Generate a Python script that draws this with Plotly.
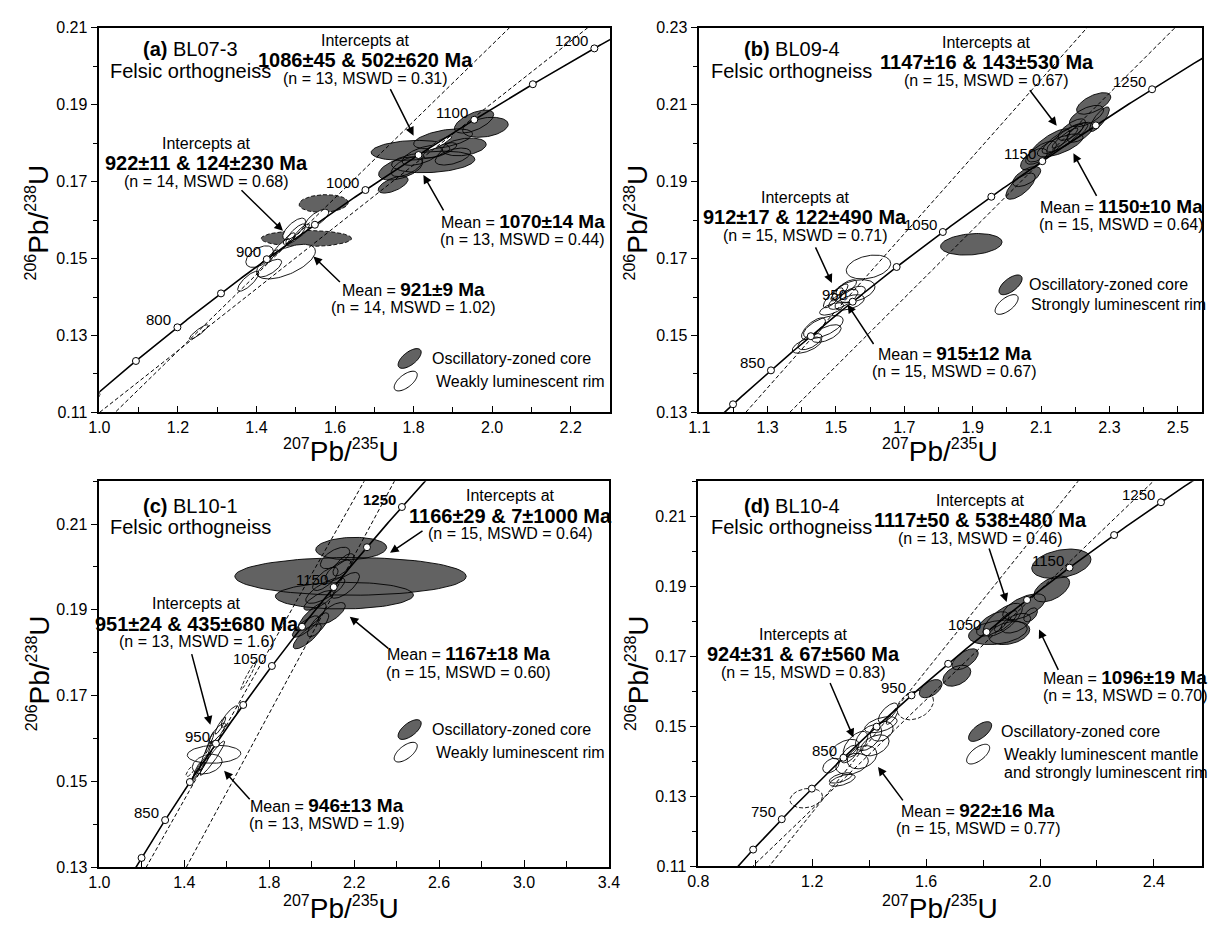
import numpy as np
import plotly.graph_objects as go

W, H = 1214, 931
FONT = "Liberation Sans, Arial, Helvetica, sans-serif"
CORE_FILL = "#626262"

# U decay constants (1/yr) for the Wetherill concordia
LAMBDA_238 = 1.55125e-10
LAMBDA_235 = 9.8485e-10

# ---------------------------------------------------------------------------
# Spot analyses: (207Pb/235U, +/-, 206Pb/238U, +/-, error correlation)
# ---------------------------------------------------------------------------
A_CORE = [
    (1.954, 0.050, 0.1856, 0.0030, 0.6),
    (1.983, 0.058, 0.1841, 0.0026, 0.3),
    (1.875, 0.075, 0.1811, 0.0026, 0.5),
    (1.792, 0.100, 0.1781, 0.0026, 0.2),
    (1.929, 0.056, 0.1790, 0.0023, 0.3),
    (1.850, 0.106, 0.1751, 0.0028, 0.25),
    (1.767, 0.056, 0.1734, 0.0030, 0.5),
    (1.748, 0.038, 0.1692, 0.0022, 0.6),
    (1.821, 0.050, 0.1768, 0.0026, 0.6),
    (1.867, 0.043, 0.1781, 0.0020, 0.7),
    (1.783, 0.040, 0.1739, 0.0026, 0.6),
    (1.900, 0.045, 0.1765, 0.0022, 0.5),
]
A_CORE_EXCLUDED = [
    (1.571, 0.0625, 0.1643, 0.0023, 0.1),
    (1.527, 0.115, 0.1552, 0.0021, 0.0),
]
A_RIM = [
    (1.554, 0.030, 0.1604, 0.0024, 0.7),
    (1.496, 0.029, 0.1577, 0.0028, 0.7),
    (1.500, 0.025, 0.1564, 0.0026, 0.8),
    (1.515, 0.020, 0.1570, 0.0020, 0.85),
    (1.483, 0.015, 0.1552, 0.0015, 0.8),
    (1.462, 0.022, 0.1530, 0.0022, 0.9),
    (1.440, 0.015, 0.1508, 0.0015, 0.9),
    (1.408, 0.035, 0.1505, 0.0028, 0.5),
    (1.475, 0.075, 0.1492, 0.0045, 0.6),
    (1.433, 0.031, 0.1475, 0.0023, 0.7),
    (1.379, 0.027, 0.1441, 0.0026, 0.8),
    (1.253, 0.024, 0.1309, 0.0019, 0.9),
    (1.867, 0.030, 0.1800, 0.0018, 0.9),
]

B_CORE = [
    (2.254, 0.050, 0.2103, 0.0028, 0.6),
    (2.233, 0.050, 0.2070, 0.0028, 0.6),
    (2.271, 0.029, 0.2062, 0.0032, 0.8),
    (2.170, 0.067, 0.2013, 0.0040, 0.85),
    (2.170, 0.053, 0.2013, 0.0036, 0.85),
    (2.170, 0.038, 0.2013, 0.0026, 0.9),
    (2.122, 0.062, 0.1994, 0.0043, 0.8),
    (2.156, 0.067, 0.1994, 0.0030, 0.7),
    (2.214, 0.038, 0.2028, 0.0026, 0.6),
    (2.190, 0.040, 0.2035, 0.0028, 0.7),
    (2.100, 0.045, 0.1975, 0.0030, 0.7),
    (2.079, 0.039, 0.1958, 0.0028, 0.6),
    (2.058, 0.041, 0.1913, 0.0026, 0.6),
    (2.040, 0.043, 0.1888, 0.0034, 0.7),
    (1.896, 0.090, 0.1737, 0.0028, 0.2),
]
B_RIM = [
    (1.595, 0.065, 0.1678, 0.0031, 0.3),
    (1.552, 0.062, 0.1615, 0.0030, 0.4),
    (1.549, 0.037, 0.1607, 0.0021, 0.6),
    (1.530, 0.030, 0.1625, 0.0020, 0.7),
    (1.510, 0.025, 0.1612, 0.0022, 0.8),
    (1.521, 0.043, 0.1594, 0.0026, 0.7),
    (1.492, 0.029, 0.1598, 0.0026, 0.8),
    (1.540, 0.043, 0.1586, 0.0020, 0.5),
    (1.487, 0.035, 0.1569, 0.0016, 0.6),
    (1.463, 0.058, 0.1522, 0.0030, 0.6),
    (1.434, 0.035, 0.1518, 0.0028, 0.7),
    (1.472, 0.043, 0.1505, 0.0023, 0.6),
    (1.415, 0.043, 0.1475, 0.0021, 0.6),
    (1.424, 0.035, 0.1484, 0.0021, 0.6),
]

C_CORE = [
    (2.186, 0.167, 0.2043, 0.0026, 0.1),
    (2.183, 0.545, 0.1978, 0.0044, 0.0),
    (2.154, 0.325, 0.1933, 0.0031, 0.05),
    (2.110, 0.069, 0.2021, 0.0025, 0.6),
    (2.125, 0.062, 0.1991, 0.0025, 0.7),
    (2.150, 0.050, 0.2005, 0.0026, 0.7),
    (2.064, 0.060, 0.1972, 0.0027, 0.7),
    (2.064, 0.092, 0.1945, 0.0030, 0.75),
    (2.156, 0.069, 0.1957, 0.0030, 0.7),
    (2.033, 0.070, 0.1922, 0.0023, 0.75),
    (2.094, 0.064, 0.1892, 0.0025, 0.7),
    (2.002, 0.066, 0.1884, 0.0032, 0.8),
    (2.030, 0.050, 0.1865, 0.0028, 0.75),
    (1.971, 0.062, 0.1861, 0.0025, 0.8),
    (1.979, 0.066, 0.1838, 0.0029, 0.8),
]
C_RIM = [
    (1.615, 0.041, 0.1651, 0.0025, 0.8),
    (1.570, 0.025, 0.1630, 0.0020, 0.9),
    (1.555, 0.039, 0.1613, 0.0023, 0.85),
    (1.520, 0.020, 0.1590, 0.0025, 0.95),
    (1.532, 0.058, 0.1554, 0.0040, 0.95),
    (1.540, 0.126, 0.1563, 0.0021, 0.1),
    (1.508, 0.070, 0.1540, 0.0023, 0.3),
    (1.500, 0.030, 0.1560, 0.0035, 0.95),
    (1.478, 0.042, 0.1533, 0.0032, 0.95),
    (1.460, 0.020, 0.1525, 0.0020, 0.9),
]
C_RIM_EXCLUDED = [
    (1.431, 0.023, 0.1525, 0.0014, 0.8),
    (1.703, 0.037, 0.1747, 0.0034, 0.97),
]

D_CORE = [
    (2.075, 0.104, 0.1964, 0.0042, 0.3),
    (2.041, 0.063, 0.1892, 0.0037, 0.5),
    (1.852, 0.103, 0.1768, 0.0035, 0.3),
    (1.869, 0.069, 0.1804, 0.0047, 0.7),
    (1.944, 0.075, 0.1841, 0.0037, 0.6),
    (1.834, 0.057, 0.1792, 0.0035, 0.6),
    (1.880, 0.040, 0.1800, 0.0030, 0.8),
    (1.915, 0.052, 0.1794, 0.0028, 0.5),
    (1.892, 0.072, 0.1766, 0.0033, 0.3),
    (1.967, 0.024, 0.1818, 0.0020, 0.5),
    (1.737, 0.046, 0.1691, 0.0030, 0.6),
    (1.708, 0.049, 0.1644, 0.0030, 0.4),
    (1.616, 0.040, 0.1607, 0.0026, 0.5),
]
D_RIM = [
    (1.466, 0.034, 0.1538, 0.0028, 0.7),
    (1.441, 0.057, 0.1504, 0.0023, 0.5),
    (1.444, 0.040, 0.1485, 0.0028, 0.3),
    (1.398, 0.046, 0.1467, 0.0037, 0.5),
    (1.352, 0.043, 0.1448, 0.0037, 0.6),
    (1.420, 0.050, 0.1445, 0.0030, 0.4),
    (1.314, 0.050, 0.1434, 0.0028, 0.5),
    (1.330, 0.030, 0.1420, 0.0025, 0.6),
    (1.375, 0.052, 0.1411, 0.0033, 0.3),
    (1.340, 0.057, 0.1392, 0.0030, 0.3),
    (1.266, 0.029, 0.1387, 0.0021, 0.4),
    (1.306, 0.045, 0.1345, 0.0017, 0.6),
    (1.300, 0.040, 0.1352, 0.0015, 0.6),
    (1.480, 0.020, 0.1525, 0.0020, 0.8),
]
D_RIM_EXCLUDED = [
    (1.562, 0.064, 0.1560, 0.0042, 0.3),
    (1.179, 0.057, 0.1294, 0.0028, 0.2),
]

# ---------------------------------------------------------------------------
# Discordia results: (upper, +/-, lower, +/-, n, MSWD) in Ma
# ---------------------------------------------------------------------------
A_CORE_INTERCEPT = (1086, 45, 502, 620, 13, "0.31")
A_RIM_INTERCEPT = (922, 11, 124, 230, 14, "0.68")
B_CORE_INTERCEPT = (1147, 16, 143, 530, 15, "0.67")
B_RIM_INTERCEPT = (912, 17, 122, 490, 15, "0.71")
C_CORE_INTERCEPT = (1166, 29, 7, 1000, 15, "0.64")
C_RIM_INTERCEPT = (951, 24, 435, 680, 13, "1.6")
D_CORE_INTERCEPT = (1117, 50, 538, 480, 13, "0.46")
D_RIM_INTERCEPT = (924, 31, 67, 560, 15, "0.83")

# Weighted mean 206Pb/238U ages: (age, +/-, n, MSWD)
A_MEANS = [(1070, 14, 13, "0.44"), (921, 9, 14, "1.02")]
B_MEANS = [(1150, 10, 15, "0.64"), (915, 12, 15, "0.67")]
C_MEANS = [(1167, 18, 15, "0.60"), (946, 13, 13, "1.9")]
D_MEANS = [(1096, 19, 13, "0.70"), (922, 16, 15, "0.77")]

# Concordia age labels (Ma); markers every 50 Ma
A_AGE_LABELS = [800, 900, 1000, 1100, 1200]
B_AGE_LABELS = [850, 950, 1050, 1150, 1250]
C_AGE_LABELS = [850, 950, 1050, 1150, 1250]
D_AGE_LABELS = [750, 850, 950, 1050, 1150, 1250]
MARKER_AGES = list(range(500, 1401, 50))


def concordia(t_ma):
    t = np.asarray(t_ma, dtype=float) * 1e6
    return np.expm1(LAMBDA_235 * t), np.expm1(LAMBDA_238 * t)


def ellipses(spots, n=90):
    th = np.linspace(0, 2 * np.pi, n)
    xs, ys = [], []
    for cx, sx, cy, sy, rho in spots:
        xs += list(cx + sx * np.cos(th)) + [None]
        ys += list(cy + sy * (rho * np.cos(th) + np.sqrt(1 - rho ** 2) * np.sin(th))) + [None]
    return xs, ys


def paper(px, py):
    return px / W, 1 - py / H


PANELS = [
    dict(tag="a", name="BL07-3", box=(90, 20, 610, 412), xr=(1.0, 2.3), yr=(0.11, 0.21),
         xt=(1.0, 0.2, 0.1), yt=(0.11, 0.02, 0.01),
         core=A_CORE, core_ex=A_CORE_EXCLUDED, rim=A_RIM, rim_ex=[],
         icpt=[A_CORE_INTERCEPT, A_RIM_INTERCEPT], means=A_MEANS, ages=A_AGE_LABELS, bold_ages=[],
         legend=["Oscillatory-zoned core", "Weakly luminescent rim"]),
    dict(tag="b", name="BL09-4", box=(701, 20, 1213, 412), xr=(1.1, 2.571), yr=(0.13, 0.23),
         xt=(1.1, 0.2, 0.1), yt=(0.13, 0.02, 0.01),
         core=B_CORE, core_ex=[], rim=B_RIM, rim_ex=[],
         icpt=[B_CORE_INTERCEPT, B_RIM_INTERCEPT], means=B_MEANS, ages=B_AGE_LABELS, bold_ages=[],
         legend=["Oscillatory-zoned core", "Strongly luminescent rim"]),
    dict(tag="c", name="BL10-1", box=(90, 482, 609, 875), xr=(1.0, 3.4), yr=(0.13, 0.22),
         xt=(1.0, 0.4, 0.2), yt=(0.13, 0.02, 0.01),
         core=C_CORE, core_ex=[], rim=C_RIM, rim_ex=C_RIM_EXCLUDED,
         icpt=[C_CORE_INTERCEPT, C_RIM_INTERCEPT], means=C_MEANS, ages=C_AGE_LABELS, bold_ages=[1250],
         legend=["Oscillatory-zoned core", "Weakly luminescent rim"]),
    dict(tag="d", name="BL10-4", box=(700, 482, 1213, 874), xr=(0.8, 2.569), yr=(0.11, 0.22),
         xt=(0.8, 0.4, 0.2), yt=(0.11, 0.02, 0.01),
         core=D_CORE, core_ex=[], rim=D_RIM, rim_ex=D_RIM_EXCLUDED,
         icpt=[D_CORE_INTERCEPT, D_RIM_INTERCEPT], means=D_MEANS, ages=D_AGE_LABELS, bold_ages=[],
         legend=["Oscillatory-zoned core",
                 "Weakly luminescent mantle", "and strongly luminescent rim"]),
]

# Text placement per panel (pixel centres): title, core intercept, rim intercept,
# mean 1, mean 2, legend icons, arrows (tail -> head), axis titles
PLACE = {
    "a": dict(title=(183, 42), icore=(361, 33), irim=(199, 138), m1=(521, 217), m2=(410, 287),
              leg=[(406, 357), (402, 380)], legx=[427, 431],
              arrows=[((386, 82), (410, 130)), ((234, 185), (277, 227)),
                      ((441, 207), (420, 170)), ((336, 280), (308, 253))],
              xtitle=(336, 451), ytitle=(28, 218)),
    "b": dict(title=(795, 42), icore=(994, 35), irim=(809, 193), m1=(1131, 202), m2=(961, 352),
              leg=[(1018, 282), (1014, 302)], legx=[1035, 1037],
              arrows=[((1037, 83), (1065, 120)), ((819, 243), (836, 280)),
                      ((1106, 192), (1082, 148)), ((879, 343), (852, 302))],
              xtitle=(946, 451), ytitle=(638, 218)),
    "c": dict(title=(183, 507), icore=(509, 497), irim=(189, 607), m1=(466, 658), m2=(322, 812),
              leg=[(406, 735), (402, 758)], legx=[427, 431],
              arrows=[((420, 532), (386, 555)), ((184, 658), (203, 730)),
                      ((385, 653), (345, 620)), ((244, 807), (217, 777))],
              xtitle=(336, 917), ytitle=(28, 677)),
    "d": dict(title=(795, 507), icore=(987, 502), irim=(807, 638), m1=(1135, 682), m2=(985, 817),
              leg=[(987, 737), (985, 760)], legx=[1006, 1009],
              arrows=[((996, 550), (1014, 605)), ((834, 687), (858, 743)),
                      ((1067, 675), (1047, 633)), ((909, 808), (883, 773))],
              xtitle=(946, 917), ytitle=(638, 677)),
}

fig = go.Figure()
annotations = []
shapes = []
layout_axes = {}


def text_ann(px, py, text, size, xanchor="center", angle=0):
    x, y = paper(px, py)
    return dict(x=x, y=y, xref="paper", yref="paper", text=text, showarrow=False,
                xanchor=xanchor, yanchor="middle", textangle=angle,
                font=dict(family=FONT, size=size, color="black"))


def icon(cx, cy, fill, a=14, b=6.5, ang=np.deg2rad(38)):
    t = np.linspace(0, 2 * np.pi, 60)
    px = cx + a * np.cos(t) * np.cos(ang) - b * np.sin(t) * np.sin(ang)
    py = cy - (a * np.cos(t) * np.sin(ang) + b * np.sin(t) * np.cos(ang))
    pts = [paper(u, v) for u, v in zip(px, py)]
    path = "M " + " L ".join(f"{u:.5f},{v:.5f}" for u, v in pts) + " Z"
    return dict(type="path", path=path, xref="paper", yref="paper",
                fillcolor=fill, line=dict(color="black", width=1))


SUP = '<sup><span style="font-size:16px">{}</span></sup>'
T_CURVE = np.arange(400, 1401, 2)

for i, p in enumerate(PANELS, start=1):
    xa, ya = f"x{i}", f"y{i}"
    x0, y0, x1, y1 = p["box"]
    axis_common = dict(showline=True, linecolor="black", linewidth=1.5, mirror=True,
                       showgrid=False, zeroline=False, tickcolor="black", tickwidth=1.2,
                       tickfont=dict(family=FONT, size=16, color="black"))
    layout_axes[f"xaxis{i}"] = dict(
        axis_common, domain=[x0 / W, x1 / W], range=list(p["xr"]), anchor=ya,
        tick0=p["xt"][0], dtick=p["xt"][1], tickformat=".1f", ticks="inside", ticklen=7,
        minor=dict(dtick=p["xt"][2], tick0=p["xt"][0], ticks="inside", ticklen=6,
                   tickwidth=1.2, tickcolor="black", showgrid=False))
    layout_axes[f"yaxis{i}"] = dict(
        axis_common, domain=[1 - y1 / H, 1 - y0 / H], range=list(p["yr"]), anchor=xa,
        tick0=p["yt"][0], dtick=p["yt"][1], tickformat=".2f", ticks="outside", ticklen=7,
        minor=dict(dtick=p["yt"][2], tick0=p["yt"][0], ticks="outside", ticklen=5,
                   tickwidth=1.2, tickcolor="black", showgrid=False))

    def add_ellipses(spots, fill, dash):
        if not spots:
            return
        ex, ey = ellipses(spots)
        fig.add_trace(go.Scatter(x=ex, y=ey, mode="lines", fill="toself", fillcolor=fill,
                                 line=dict(color="black", width=0.9, dash=dash),
                                 hoverinfo="skip", showlegend=False, xaxis=xa, yaxis=ya))

    add_ellipses(p["rim_ex"], "white", "4px,2px")
    add_ellipses(p["core_ex"], CORE_FILL, "4px,2px")
    add_ellipses(p["core"], CORE_FILL, "solid")
    add_ellipses(p["rim"], "white", "solid")

    # discordia chords through the intercept ages
    for up, _, lo, _, _, _ in p["icpt"]:
        (xu, xl), (yu, yl) = concordia([up, lo])
        slope = (yu - yl) / (xu - xl)
        xs = np.array([p["xr"][0] - 1.0, p["xr"][1] + 1.0])
        fig.add_trace(go.Scatter(x=xs, y=yu + slope * (xs - xu), mode="lines",
                                 line=dict(color="black", width=1, dash="4px,2.5px"),
                                 hoverinfo="skip", showlegend=False, xaxis=xa, yaxis=ya))

    cx, cy = concordia(T_CURVE)
    fig.add_trace(go.Scatter(x=cx, y=cy, mode="lines", line=dict(color="black", width=1.6),
                             hoverinfo="skip", showlegend=False, xaxis=xa, yaxis=ya))
    mx, my = concordia(MARKER_AGES)
    fig.add_trace(go.Scatter(x=mx, y=my, mode="markers",
                             marker=dict(size=7, color="white", line=dict(color="black", width=1)),
                             hoverinfo="skip", showlegend=False, xaxis=xa, yaxis=ya))

    # concordia age labels
    lx, ly = concordia(p["ages"])
    for age, u, v in zip(p["ages"], lx, ly):
        label = f"<b>{age}</b>" if age in p["bold_ages"] else str(age)
        annotations.append(dict(x=u, y=v, xref=xa, yref=ya, text=label, showarrow=False,
                                xanchor="right", yanchor="bottom", xshift=-4, yshift=-3,
                                font=dict(family=FONT, size=15, color="black")))

    pl = PLACE[p["tag"]]
    tx, ty = pl["title"]
    annotations.append(text_ann(tx, ty, f"<b>({p['tag']})</b> {p['name']}", 20))
    annotations.append(text_ann(tx, ty + 22, "Felsic orthogneiss", 20))

    for (ix, iy), (up, ue, lo, le, n, mswd) in zip([pl["icore"], pl["irim"]], p["icpt"]):
        annotations.append(text_ann(ix, iy, "Intercepts at", 16))
        annotations.append(text_ann(ix, iy + 20, f"<b>{up}±{ue} &amp; {lo}±{le} Ma</b>", 20))
        annotations.append(text_ann(ix, iy + 38.5, f"(n = {n}, MSWD = {mswd})", 16))

    for (mx_, my_), (age, err, n, mswd) in zip([pl["m1"], pl["m2"]], p["means"]):
        annotations.append(text_ann(mx_, my_, f'Mean = <b><span style="font-size:19px">{age}±{err} Ma</span></b>', 16))
        annotations.append(text_ann(mx_, my_ + 18.5, f"(n = {n}, MSWD = {mswd})", 16))

    for (tail, head) in pl["arrows"]:
        hx, hy = paper(*head)
        annotations.append(dict(x=hx, y=hy, xref="paper", yref="paper", text="",
                                showarrow=True, arrowhead=2, arrowsize=1.15, arrowwidth=1.5,
                                arrowcolor="black", standoff=0, startstandoff=0,
                                ax=tail[0] - head[0], ay=tail[1] - head[1],
                                axref="pixel", ayref="pixel"))

    (g1x, g1y), (g2x, g2y) = pl["leg"]
    shapes.append(icon(g1x, g1y, CORE_FILL))
    shapes.append(icon(g2x, g2y, "white"))
    annotations.append(text_ann(pl["legx"][0], g1y, p["legend"][0], 16, xanchor="left"))
    annotations.append(text_ann(pl["legx"][1], g2y, p["legend"][1], 16, xanchor="left"))
    if len(p["legend"]) > 2:
        annotations.append(text_ann(pl["legx"][1], g2y + 18.5, p["legend"][2], 16, xanchor="left"))

    xtx, xty = pl["xtitle"]
    annotations.append(text_ann(xtx, xty, SUP.format(207) + "Pb/" + SUP.format(235) + "U", 28))
    ytx, yty = pl["ytitle"]
    annotations.append(text_ann(ytx, yty, SUP.format(206) + "Pb/" + SUP.format(238) + "U", 28, angle=-90))

fig.update_layout(
    width=W, height=H, margin=dict(l=0, r=0, t=0, b=0),
    paper_bgcolor="white", plot_bgcolor="white",
    font=dict(family=FONT, color="black"),
    showlegend=False, annotations=annotations, shapes=shapes,
    **layout_axes,
)

fig.write_html("out.html")
